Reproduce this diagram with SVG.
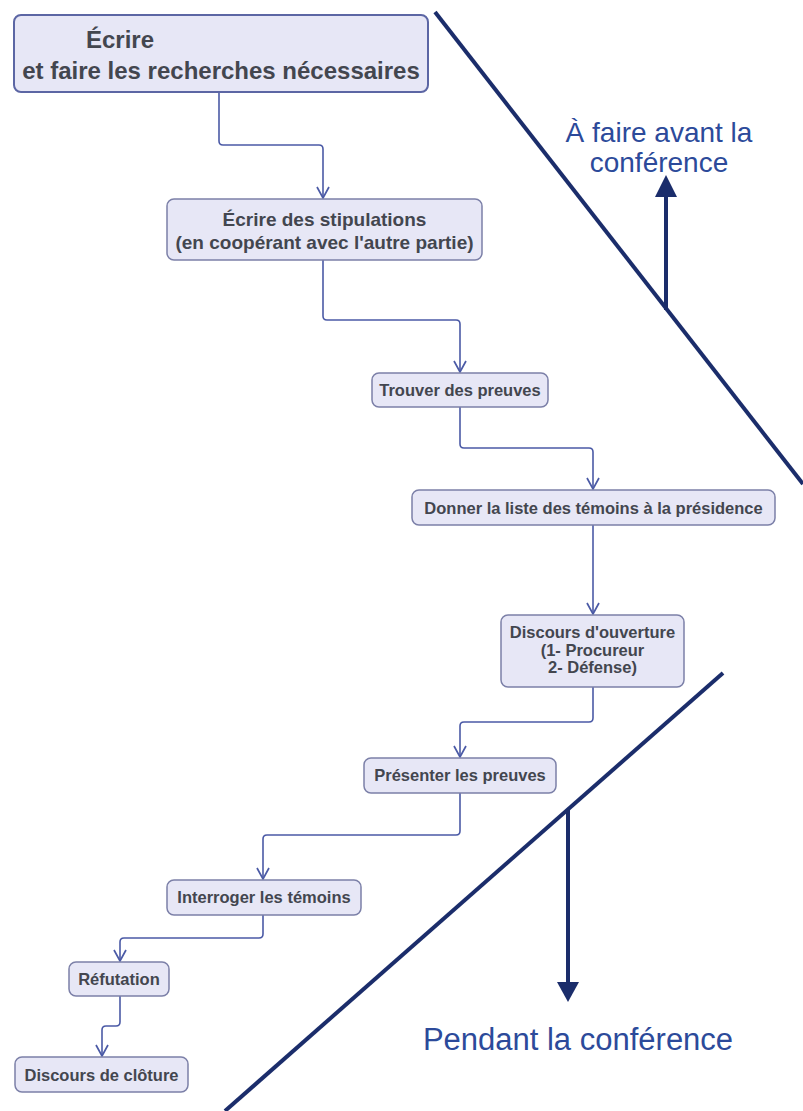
<svg xmlns="http://www.w3.org/2000/svg" width="803" height="1111" viewBox="0 0 803 1111">
  <style>
    .box { fill: #e7e7f6; stroke: #7c80a8; stroke-width: 1.5; }
    .t { font-family: "Liberation Sans", Arial, sans-serif; font-weight: bold; fill: #43464f; text-anchor: middle; }
    .conn { fill: none; stroke: #4b5aa6; stroke-width: 1.6; stroke-linejoin: round; }
    .big { stroke: #1b2d6b; stroke-width: 4; fill: none; }
    .lbl { font-family: "Liberation Sans", Arial, sans-serif; fill: #2c4a9a; }
  </style>
  <defs>
    <marker id="v" viewBox="0 0 14 14" refX="12" refY="7" markerWidth="14" markerHeight="14" markerUnits="userSpaceOnUse" orient="auto">
      <path d="M1,1 L12,7 L1,13" fill="none" stroke="#4b5aa6" stroke-width="1.7"/>
    </marker>
  </defs>
  <rect width="803" height="1111" fill="#ffffff"/>

  <g id="connectors">
    <path class="conn" d="M219,92 V141 Q219,145 223,145 H319 Q323,145 323,149 V198" marker-end="url(#v)"/>
    <path class="conn" d="M323,260 V316 Q323,320 327,320 H456 Q460,320 460,324 V372" marker-end="url(#v)"/>
    <path class="conn" d="M460,407 V444 Q460,448 464,448 H589 Q593,448 593,452 V489" marker-end="url(#v)"/>
    <path class="conn" d="M593,525 V614" marker-end="url(#v)"/>
    <path class="conn" d="M593,687 V718 Q593,722 589,722 H464 Q460,722 460,726 V757" marker-end="url(#v)"/>
    <path class="conn" d="M460,793 V831 Q460,835 456,835 H267 Q263,835 263,839 V879" marker-end="url(#v)"/>
    <path class="conn" d="M263,915 V934 Q263,938 259,938 H124 Q120,938 120,942 V961" marker-end="url(#v)"/>
    <path class="conn" d="M120,996 V1022 Q120,1026 116,1026 H106 Q102,1026 102,1030 V1056" marker-end="url(#v)"/>
  </g>

  <g id="n1">
    <rect class="box" x="14" y="15" width="414" height="77" rx="7" style="stroke:#5c66a4;stroke-width:2"/>
    <text class="t" x="86" y="48" font-size="24" style="text-anchor:start">Écrire</text>
    <text class="t" x="221" y="79" font-size="24">et faire les recherches nécessaires</text>
  </g>
  <g id="n2">
    <rect class="box" x="167" y="199" width="315" height="61" rx="7"/>
    <text class="t" x="324.5" y="226" font-size="19">Écrire des stipulations</text>
    <text class="t" x="324.5" y="249" font-size="19">(en coopérant avec l'autre partie)</text>
  </g>
  <g id="n3">
    <rect class="box" x="372" y="373" width="176" height="34" rx="7"/>
    <text class="t" x="460" y="396" font-size="16.5">Trouver des preuves</text>
  </g>
  <g id="n4">
    <rect class="box" x="412" y="490" width="363" height="35" rx="7"/>
    <text class="t" x="593.5" y="513.5" font-size="16.5">Donner la liste des témoins à la présidence</text>
  </g>
  <g id="n5">
    <rect class="box" x="501" y="615" width="183" height="72" rx="7"/>
    <text class="t" x="592.5" y="638" font-size="16.5">Discours d'ouverture</text>
    <text class="t" x="592.5" y="656" font-size="16.5">(1- Procureur</text>
    <text class="t" x="592.5" y="673" font-size="16.5">2- Défense)</text>
  </g>
  <g id="n6">
    <rect class="box" x="364" y="758" width="192" height="35" rx="7"/>
    <text class="t" x="460" y="781" font-size="16.5">Présenter les preuves</text>
  </g>
  <g id="n7">
    <rect class="box" x="167" y="880" width="194" height="35" rx="7"/>
    <text class="t" x="264" y="903" font-size="16.5">Interroger les témoins</text>
  </g>
  <g id="n8">
    <rect class="box" x="69" y="962" width="100" height="34" rx="7"/>
    <text class="t" x="119" y="985" font-size="16.5">Réfutation</text>
  </g>
  <g id="n9">
    <rect class="box" x="15" y="1057" width="173" height="35" rx="7"/>
    <text class="t" x="101.5" y="1081" font-size="16.5">Discours de clôture</text>
  </g>

  <g id="divider-before">
    <line class="big" x1="435" y1="12" x2="803" y2="484"/>
    <line class="big" x1="666" y1="310" x2="666" y2="196"/>
    <polygon points="655,197 677,197 666,175" fill="#1b2d6b"/>
    <text class="lbl" x="659" y="142" font-size="28" text-anchor="middle">À faire avant la</text>
    <text class="lbl" x="659" y="172" font-size="28" text-anchor="middle">conférence</text>
  </g>
  <g id="divider-during">
    <line class="big" x1="225" y1="1111" x2="723" y2="673"/>
    <line class="big" x1="568" y1="810" x2="568" y2="983"/>
    <polygon points="557,982 579,982 568,1002" fill="#1b2d6b"/>
    <text class="lbl" x="578" y="1050" font-size="31" text-anchor="middle">Pendant la conférence</text>
  </g>
</svg>
